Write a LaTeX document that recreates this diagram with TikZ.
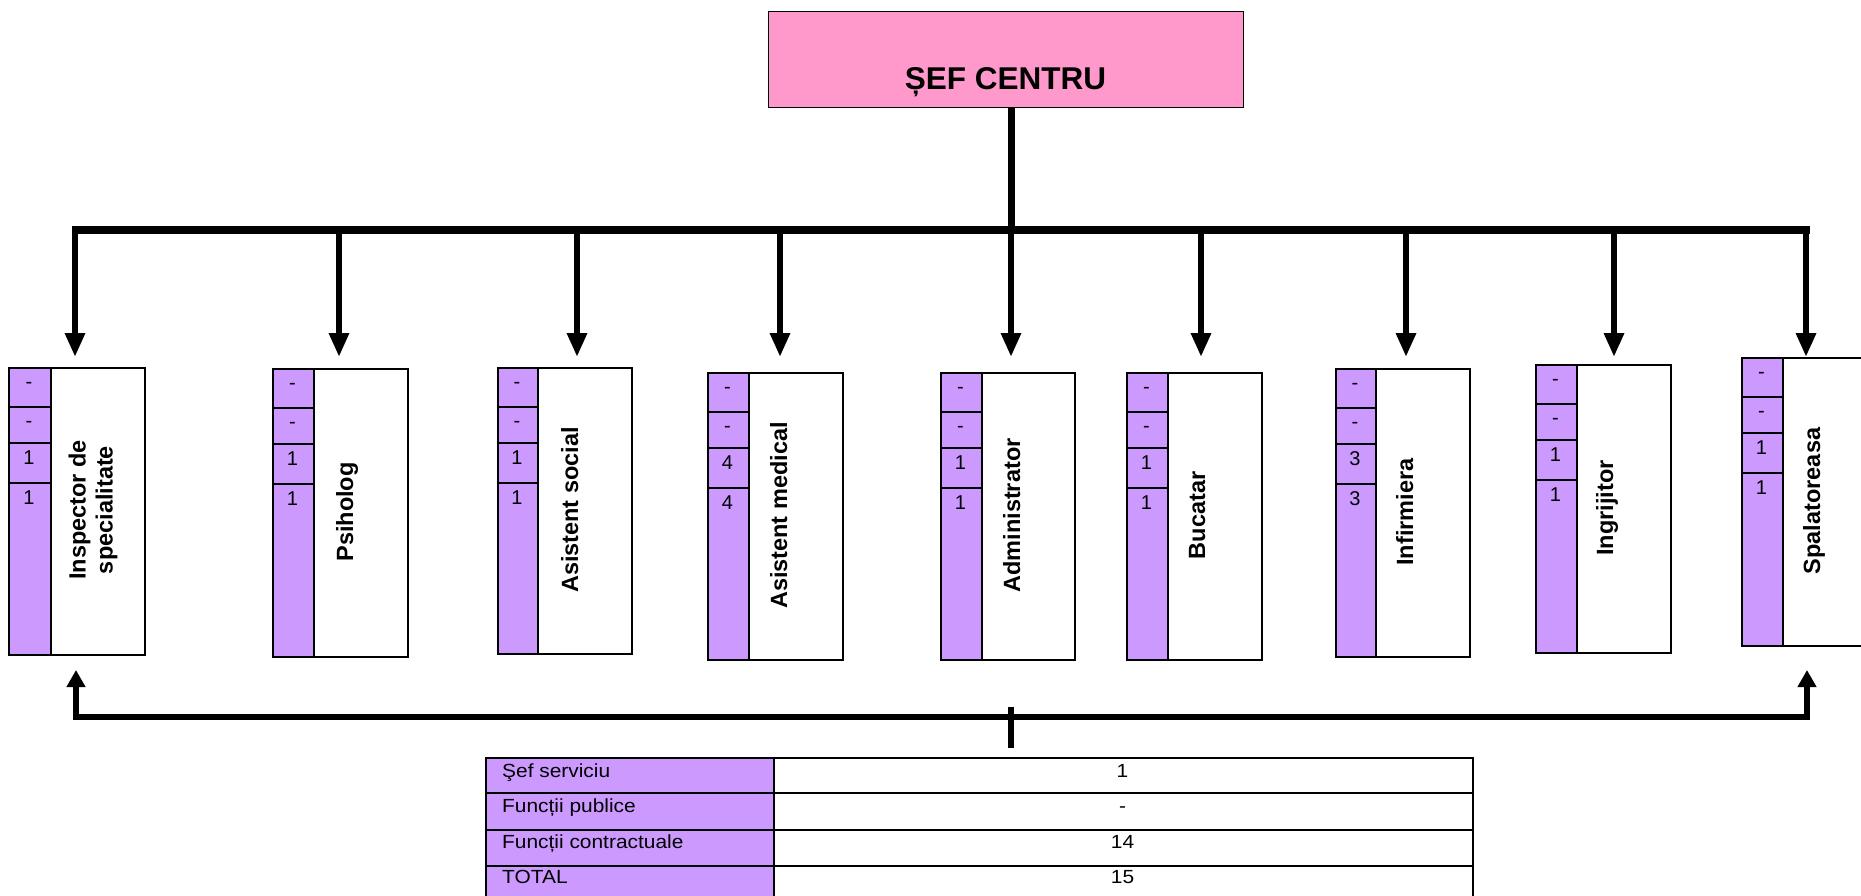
\documentclass[tikz,border=0pt]{standalone}
\usepackage{fontspec}
\setmainfont{Liberation Sans}
\newfontfamily\tabfont{Liberation Sans}[FakeStretch=1.1]
\usetikzlibrary{arrows.meta}
\definecolor{pinkfill}{RGB}{255,153,204}
\definecolor{lilac}{RGB}{204,153,255}
\tikzset{
 ceobox/.style={draw=black, line width=1.3pt, fill=pinkfill, inner sep=0pt, minimum width=475pt, minimum height=96pt, anchor=north west},
 whitecell/.style={draw=black, line width=2.2pt, fill=white, inner sep=0pt, anchor=north west},
 lilaccell/.style={draw=black, line width=2.2pt, fill=lilac, inner sep=0pt, anchor=north west},
 cellline/.style={draw=black, line width=2.2pt},
 numtxt/.style={font=\fontsize{20}{22}\selectfont, inner sep=0pt, anchor=base},
 lbl/.style={font=\bfseries\fontsize{23.5}{27}\selectfont, inner sep=0pt, rotate=90},
 trunk/.style={line width=7pt},
 barline/.style={line width=8pt},
 downarrow/.style={line width=6pt, -{Triangle[length=24pt,width=19pt]}},
 backline/.style={line width=6.5pt, line join=miter, {Triangle[length=17pt,width=18pt]}-{Triangle[length=17pt,width=18pt]}},
 tabtxt/.style={font=\tabfont\fontsize{19}{22}\selectfont, inner sep=0pt},
}
\newcommand{\orgbox}[7]{%
 \node[whitecell, minimum width={(#6-#2)*1pt}, minimum height={(#4-#3)*1pt}] (#1) at (#2,#3) {};
 \node[lilaccell, minimum width={(#5-#2)*1pt}, minimum height={(#4-#3)*1pt}] (#1-col) at (#2,#3) {};
 \draw[cellline] (#2,{#3+40}) -- (#5,{#3+40});
 \draw[cellline] (#2,{#3+76}) -- (#5,{#3+76});
 \draw[cellline] (#2,{#3+116}) -- (#5,{#3+116});
 \node[numtxt] (#1-a) at ({(#2+#5)/2},{#3+21}) {-};
 \node[numtxt] (#1-b) at ({(#2+#5)/2},{#3+60}) {-};
 \node[numtxt] (#1-c) at ({(#2+#5)/2},{#3+97}) {#7};
 \node[numtxt] (#1-d) at ({(#2+#5)/2},{#3+137}) {#7};
}
\begin{document}
\begin{tikzpicture}[x=1pt,y=-1pt]
\fill[white] (0,0) rectangle (1861,896);
\useasboundingbox (0,0) rectangle (1861,896);
\clip (0,0) rectangle (1861,896);

% top box
\node[ceobox] (ceo) at (768,11) {};
\node[font=\bfseries\fontsize{31.5}{35}\selectfont, anchor=base, inner sep=0pt] (ceo-t) at (1005.5,90) {ȘEF CENTRU};

% boxes
\orgbox{insp}{8}{367}{654}{50}{144}{1}
\orgbox{psih}{272}{368}{656}{313}{407}{1}
\orgbox{asoc}{497}{367}{653}{537}{631}{1}
\orgbox{amed}{707}{372}{659}{748}{842}{4}
\orgbox{admin}{940}{372}{659}{981}{1074}{1}
\orgbox{buc}{1126}{372}{659}{1167}{1261}{1}
\orgbox{inf}{1335}{368}{656}{1375}{1469}{3}
\orgbox{ingr}{1535}{364}{652}{1576}{1670}{1}
\orgbox{spal}{1741}{357}{645}{1782}{1880}{1}

% labels
\node[lbl, align=center] (insp-t) at (93,510) {Inspector de\\specialitate};
\node[lbl, anchor=base] (psih-t) at (353,512) {Psiholog};
\node[lbl, anchor=base] (asoc-t) at (578,510) {Asistent social};
\node[lbl, anchor=base] (amed-t) at (787,515.5) {Asistent medical};
\node[lbl, anchor=base] (admin-t) at (1020,515.5) {Administrator};
\node[lbl, anchor=base] (buc-t) at (1205,515.5) {Bucatar};
\node[lbl, anchor=base] (inf-t) at (1413,512) {Infirmiera};
\node[lbl, anchor=base] (ingr-t) at (1613,508) {Ingrijitor};
\node[lbl, anchor=base] (spal-t) at (1820,501) {Spalatoreasa};

% top connectors
\coordinate (hub) at (1011,230);
\coordinate (barL) at (72,230);
\coordinate (barR) at (1810,230);
\draw[trunk] (ceo.south -| hub) -- (hub);
\draw[barline] (barL) -- (barR);
\foreach \n/\x in {insp/75, psih/339, asoc/577, amed/780, admin/1011, buc/1201, inf/1406, ingr/1614, spal/1806}{
  \coordinate (\n-in) at (\x,357);
  \draw[downarrow] (\n-in |- barL) -- (\n-in);
}

% bottom connector
\coordinate (backL) at (76,670);
\coordinate (backR) at (1807,670);
\coordinate (backY) at (0,717);
\draw[backline] (backL) -- (backL |- backY) -- (backR |- backY) -- (backR);
\coordinate (tickT) at (1011,707);
\coordinate (tickB) at (1011,748);
\draw[line width=6pt] (tickT) -- (tickB);

% table
\node[lilaccell, minimum width=288pt, minimum height=35pt] (r1a) at (485,757) {};
\node[whitecell, minimum width=699pt, minimum height=35pt] (r1b) at (773,757) {};
\node[lilaccell, minimum width=288pt, minimum height=37pt] (r2a) at (485,792) {};
\node[whitecell, minimum width=699pt, minimum height=37pt] (r2b) at (773,792) {};
\node[lilaccell, minimum width=288pt, minimum height=36pt] (r3a) at (485,829) {};
\node[whitecell, minimum width=699pt, minimum height=36pt] (r3b) at (773,829) {};
\node[lilaccell, minimum width=288pt, minimum height=35pt] (r4a) at (485,865) {};
\node[whitecell, minimum width=699pt, minimum height=35pt] (r4b) at (773,865) {};

\node[tabtxt, anchor=base west] (r1a-t) at (502,777) {Şef serviciu};
\node[tabtxt, anchor=base] (r1b-t) at (1122.5,777) {1};
\node[tabtxt, anchor=base west] (r2a-t) at (502,812) {Funcții publice};
\node[tabtxt, anchor=base] (r2b-t) at (1122.5,812) {-};
\node[tabtxt, anchor=base west] (r3a-t) at (502,848) {Funcții contractuale};
\node[tabtxt, anchor=base] (r3b-t) at (1122.5,848) {14};
\node[tabtxt, anchor=base west] (r4a-t) at (502,883) {TOTAL};
\node[tabtxt, anchor=base] (r4b-t) at (1122.5,883) {15};
\end{tikzpicture}
\end{document}
